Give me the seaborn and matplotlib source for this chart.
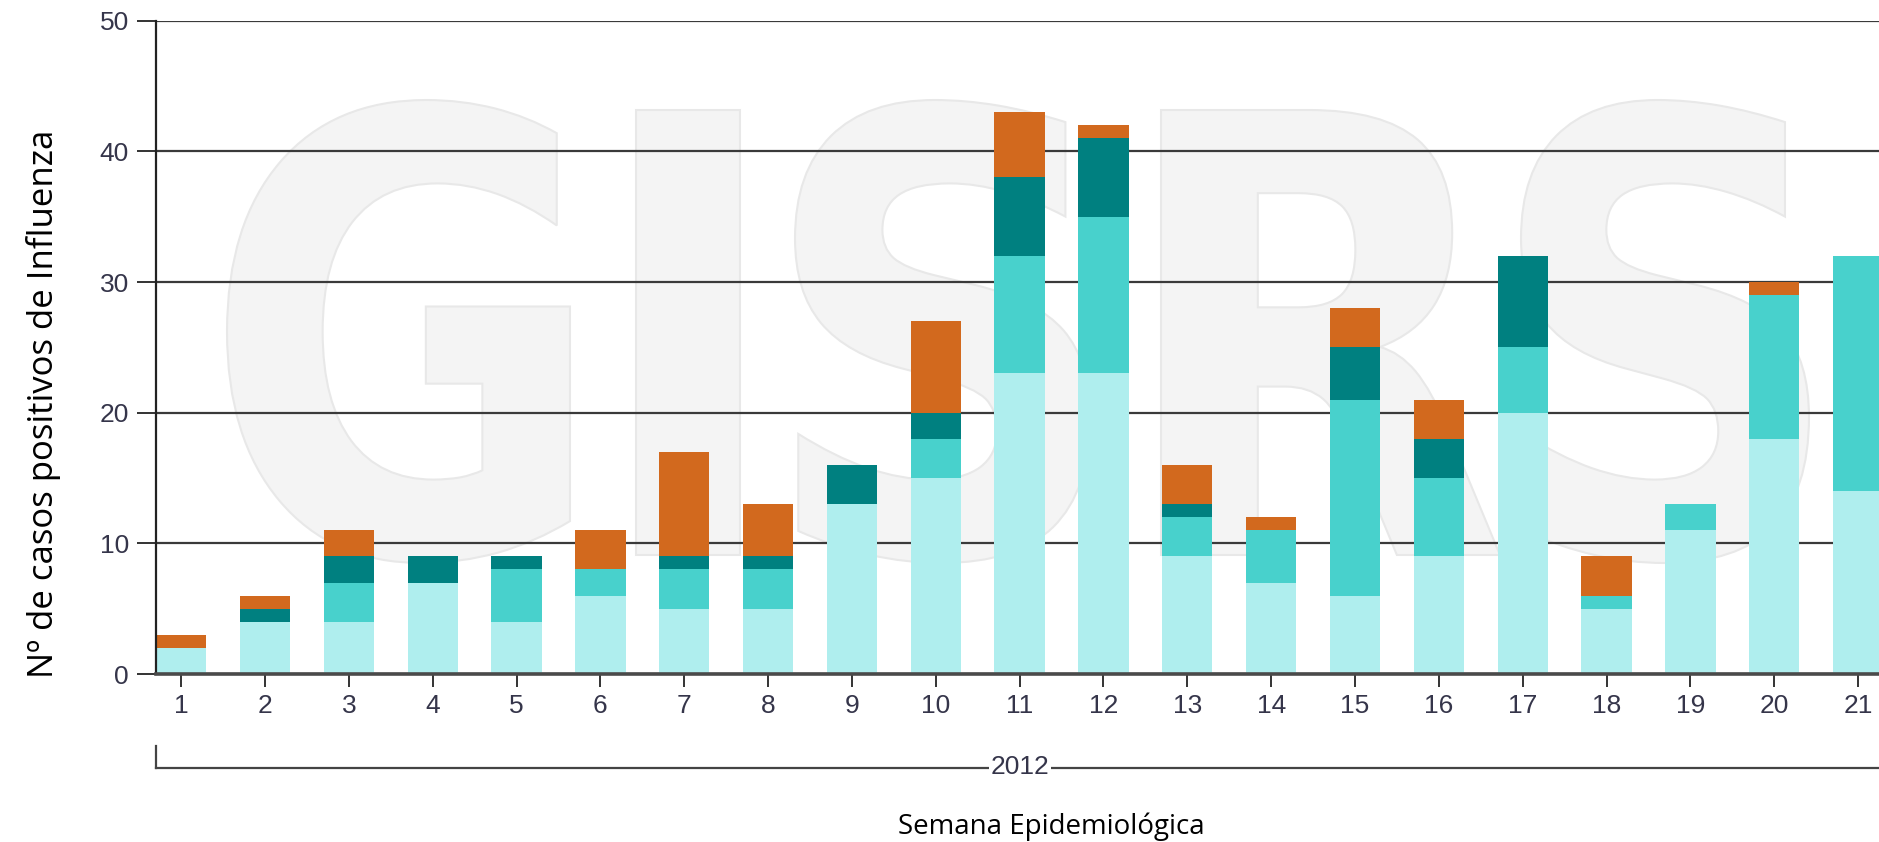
import matplotlib
matplotlib.use("Agg")
import matplotlib.pyplot as plt
import seaborn as sns
import pandas as pd
from matplotlib.textpath import TextPath
from matplotlib.font_manager import FontProperties
from matplotlib.patches import PathPatch
from matplotlib.transforms import Affine2D
from matplotlib.lines import Line2D

# data (weeks 1-21, 2012)
weeks = [str(w) for w in range(1, 22)]
serie_clara = [2, 4, 4, 7, 4, 6, 5, 5, 13, 15, 23, 23, 9, 7, 6, 9, 20, 5, 11, 18, 14]
serie_media = [0, 0, 3, 0, 4, 2, 3, 3, 0, 3, 9, 12, 3, 4, 15, 6, 5, 1, 2, 11, 18]
serie_oscura = [0, 1, 2, 2, 1, 0, 1, 1, 3, 2, 6, 6, 1, 0, 4, 3, 7, 0, 0, 0, 0]
serie_naranja = [1, 1, 2, 0, 0, 3, 8, 4, 0, 7, 5, 1, 3, 1, 3, 3, 0, 3, 0, 1, 0]

colores = ["#AFEEEE", "#48D1CC", "#008080", "#D2691E"]

df = pd.DataFrame({"semana": weeks, "c1": serie_clara, "c2": serie_media,
                   "c3": serie_oscura, "c4": serie_naranja})
# cumulative tops for stacking
df["t1"] = df["c1"]
df["t2"] = df["t1"] + df["c2"]
df["t3"] = df["t2"] + df["c3"]
df["t4"] = df["t3"] + df["c4"]

W, H = 1879, 842
fig = plt.figure(figsize=(W / 100, H / 100), dpi=100)
ax = fig.add_axes([156 / W, 1 - 674 / H, 1 - 156 / W, (674 - 20.7) / H])
ax.set_facecolor("white")

# stacked bars: draw tallest first, overlay the lower cumulative sums
for col, c in zip(["t4", "t3", "t2", "t1"], colores[::-1]):
    sns.barplot(data=df, x="semana", y=col, order=weeks, color=c, saturation=1,
                width=0.6, linewidth=0, ax=ax, zorder=2)

ax.set_xlim(-0.3, 20.25)
ax.set_ylim(0, 50)
ax.set_yticks([0, 10, 20, 30, 40, 50])
ax.set_axisbelow(True)
ax.yaxis.grid(True, color="#3a3a3a", lw=1.6)
ax.xaxis.grid(False)

for s in ["top", "right"]:
    ax.spines[s].set_visible(False)
ax.spines["left"].set_color("#222222")
ax.spines["left"].set_linewidth(1.6)
ax.spines["bottom"].set_color("#4a4a4a")
ax.spines["bottom"].set_linewidth(2.6)
ax.spines["bottom"].set_zorder(3)

lbl_color = "#35354a"
ax.tick_params(axis="y", length=13.7, width=1.4, color="#333333", pad=5.8,
               labelsize=19, labelcolor=lbl_color)
ax.tick_params(axis="x", length=9.4, width=1.4, color="#333333", pad=5,
               labelsize=19, labelcolor=lbl_color)
for t in ax.get_xticklabels() + ax.get_yticklabels():
    t.set_fontfamily("Liberation Sans")
ax.set_xlabel("")
ax.set_ylabel("")

# watermark GISRS, one letter at a time (pixel boxes: left, right, top, bottom)
wm_letters = [("G", 227, 570, 100, 563), ("I", 636, 740, 110, 555),
              ("S", 795, 1090, 100, 563), ("R", 1161, 1500, 110, 555),
              ("S", 1521, 1809, 100, 563)]
fp = FontProperties(family="DejaVu Sans", weight="bold")
for ch, x0, x1, ytop, ybot in wm_letters:
    tp = TextPath((0, 0), ch, size=1, prop=fp)
    ext = tp.get_extents()
    sx = (x1 - x0) / ext.width / W
    sy = (ybot - ytop) / ext.height / H
    tr = (Affine2D().translate(-ext.x0, -ext.y0).scale(sx, sy)
          .translate(x0 / W, 1 - ybot / H) + fig.transFigure)
    ax.add_patch(PathPatch(tp, transform=tr, facecolor="#f4f4f4", edgecolor="#e8e8e8",
                           lw=1.5, zorder=0.2, clip_on=False))

# year bracket under the axis
fig.add_artist(Line2D([156 / W, 156 / W], [1 - 746 / H, 1 - 768 / H], color="#444444", lw=1.6))
fig.add_artist(Line2D([156 / W, 1.0], [1 - 768 / H, 1 - 768 / H], color="#444444", lw=1.6))
fig.text(1020 / W, 1 - 767 / H, "2012", ha="center", va="center", fontsize=19,
         family="Liberation Sans", color=lbl_color,
         bbox=dict(facecolor="white", edgecolor="none", pad=1.5))

fig.text(1051 / W, 1 - 827 / H, "Semana Epidemiológica", ha="center", va="center",
         fontsize=20, family="Open Sans", color="black")
fig.text(44 / W, 1 - 404 / H, "Nº de casos positivos de Influenza", ha="center", va="center",
         rotation=90, fontsize=25, family="Open Sans", color="black")

fig.savefig("out.png", dpi=100)
